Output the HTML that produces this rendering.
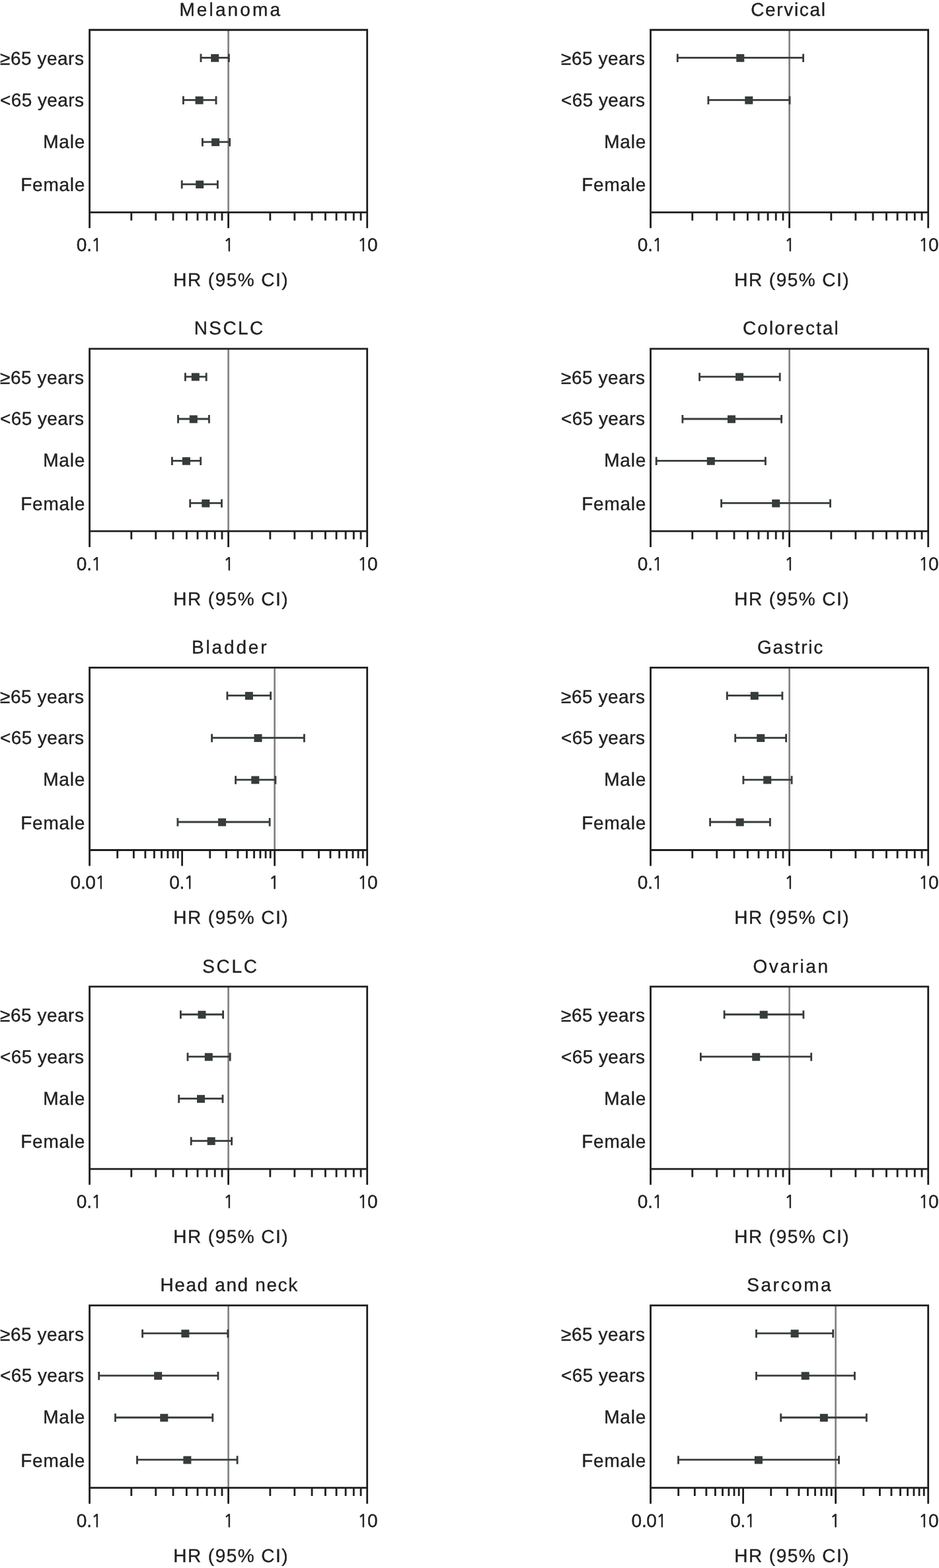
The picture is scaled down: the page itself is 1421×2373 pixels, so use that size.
<!DOCTYPE html>
<html lang="en"><head><meta charset="utf-8"><title>Forest plots</title>
<style>
html,body{margin:0;padding:0;background:#fff}
svg{display:block}
text{font-family:"Liberation Sans",sans-serif;font-size:28.0px;fill:#1f1f1f;text-rendering:geometricPrecision;font-kerning:none;stroke:#1f1f1f;stroke-width:0.35px}
.n{font-family:"NanumGothic","Liberation Sans",sans-serif;font-size:26.6px;stroke-width:0.6px;letter-spacing:-0.5px}
</style></head><body>
<svg width="1421" height="2373" viewBox="0 0 1421 2373">
<rect width="1421" height="2373" fill="#fff"/>
<g>
<line x1="345.6" y1="45.25" x2="345.6" y2="321.3" stroke="#7f7f7f" stroke-width="2.6"/>
<path d="M135.55 345.3V45.25H555.65V345.3M135.55 321.3H555.65" fill="none" stroke="#1f1f1f" stroke-width="2.8"/>
<path d="M198.78 321.3v12.4M235.77 321.3v12.4M262.01 321.3v12.4M282.37 321.3v12.4M299 321.3v12.4M313.06 321.3v12.4M325.24 321.3v12.4M335.99 321.3v12.4M408.83 321.3v12.4M445.82 321.3v12.4M472.06 321.3v12.4M492.42 321.3v12.4M509.05 321.3v12.4M523.11 321.3v12.4M535.29 321.3v12.4M546.04 321.3v12.4M345.6 321.3v24.0" fill="none" stroke="#1f1f1f" stroke-width="2.8"/>
<path d="M304 87.45H346.4M304 81.55v12.5M346.4 81.55v12.5M277.4 151.4H327M277.4 145.5v12.5M327 145.5v12.5M306.4 214.85H347.6M306.4 208.95v12.5M347.6 208.95v12.5M275.2 278.8H329.4M275.2 272.9v12.5M329.4 272.9v12.5" fill="none" stroke="#363b3b" stroke-width="2.8"/>
<rect x="319.2" y="81.95" width="12" height="11.8" fill="#363b3b"/>
<rect x="295.6" y="145.9" width="12" height="11.8" fill="#363b3b"/>
<rect x="320.1" y="209.35" width="12" height="11.8" fill="#363b3b"/>
<rect x="296.2" y="273.3" width="12" height="11.8" fill="#363b3b"/>
</g>
<g>
<line x1="1194.6" y1="45.25" x2="1194.6" y2="321.3" stroke="#7f7f7f" stroke-width="2.6"/>
<path d="M984.55 345.3V45.25H1404.65V345.3M984.55 321.3H1404.65" fill="none" stroke="#1f1f1f" stroke-width="2.8"/>
<path d="M1047.78 321.3v12.4M1084.77 321.3v12.4M1111.01 321.3v12.4M1131.37 321.3v12.4M1148 321.3v12.4M1162.06 321.3v12.4M1174.24 321.3v12.4M1184.99 321.3v12.4M1257.83 321.3v12.4M1294.82 321.3v12.4M1321.06 321.3v12.4M1341.42 321.3v12.4M1358.05 321.3v12.4M1372.11 321.3v12.4M1384.29 321.3v12.4M1395.04 321.3v12.4M1194.6 321.3v24.0" fill="none" stroke="#1f1f1f" stroke-width="2.8"/>
<path d="M1025.3 87.45H1215.6M1025.3 81.55v12.5M1215.6 81.55v12.5M1071.9 151.4H1195.1M1071.9 145.5v12.5M1195.1 145.5v12.5" fill="none" stroke="#363b3b" stroke-width="2.8"/>
<rect x="1114.3" y="81.95" width="12" height="11.8" fill="#363b3b"/>
<rect x="1127.3" y="145.9" width="12" height="11.8" fill="#363b3b"/>
</g>
<g>
<line x1="345.6" y1="527.85" x2="345.6" y2="803.9" stroke="#7f7f7f" stroke-width="2.6"/>
<path d="M135.55 827.9V527.85H555.65V827.9M135.55 803.9H555.65" fill="none" stroke="#1f1f1f" stroke-width="2.8"/>
<path d="M198.78 803.9v12.4M235.77 803.9v12.4M262.01 803.9v12.4M282.37 803.9v12.4M299 803.9v12.4M313.06 803.9v12.4M325.24 803.9v12.4M335.99 803.9v12.4M408.83 803.9v12.4M445.82 803.9v12.4M472.06 803.9v12.4M492.42 803.9v12.4M509.05 803.9v12.4M523.11 803.9v12.4M535.29 803.9v12.4M546.04 803.9v12.4M345.6 803.9v24.0" fill="none" stroke="#1f1f1f" stroke-width="2.8"/>
<path d="M280.4 570.05H312.2M280.4 564.15v12.5M312.2 564.15v12.5M269.5 634H316.4M269.5 628.1v12.5M316.4 628.1v12.5M260.4 697.45H303.7M260.4 691.55v12.5M303.7 691.55v12.5M287.7 761.4H335.5M287.7 755.5v12.5M335.5 755.5v12.5" fill="none" stroke="#363b3b" stroke-width="2.8"/>
<rect x="289.8" y="564.55" width="12" height="11.8" fill="#363b3b"/>
<rect x="286.8" y="628.5" width="12" height="11.8" fill="#363b3b"/>
<rect x="275.9" y="691.95" width="12" height="11.8" fill="#363b3b"/>
<rect x="305.3" y="755.9" width="12" height="11.8" fill="#363b3b"/>
</g>
<g>
<line x1="1194.6" y1="527.85" x2="1194.6" y2="803.9" stroke="#7f7f7f" stroke-width="2.6"/>
<path d="M984.55 827.9V527.85H1404.65V827.9M984.55 803.9H1404.65" fill="none" stroke="#1f1f1f" stroke-width="2.8"/>
<path d="M1047.78 803.9v12.4M1084.77 803.9v12.4M1111.01 803.9v12.4M1131.37 803.9v12.4M1148 803.9v12.4M1162.06 803.9v12.4M1174.24 803.9v12.4M1184.99 803.9v12.4M1257.83 803.9v12.4M1294.82 803.9v12.4M1321.06 803.9v12.4M1341.42 803.9v12.4M1358.05 803.9v12.4M1372.11 803.9v12.4M1384.29 803.9v12.4M1395.04 803.9v12.4M1194.6 803.9v24.0" fill="none" stroke="#1f1f1f" stroke-width="2.8"/>
<path d="M1058.6 570.05H1180.2M1058.6 564.15v12.5M1180.2 564.15v12.5M1032.9 634H1182.6M1032.9 628.1v12.5M1182.6 628.1v12.5M993.2 697.45H1158.4M993.2 691.55v12.5M1158.4 691.55v12.5M1091.6 761.4H1256.5M1091.6 755.5v12.5M1256.5 755.5v12.5" fill="none" stroke="#363b3b" stroke-width="2.8"/>
<rect x="1113.1" y="564.55" width="12" height="11.8" fill="#363b3b"/>
<rect x="1101" y="628.5" width="12" height="11.8" fill="#363b3b"/>
<rect x="1069.8" y="691.95" width="12" height="11.8" fill="#363b3b"/>
<rect x="1168.2" y="755.9" width="12" height="11.8" fill="#363b3b"/>
</g>
<g>
<line x1="415.62" y1="1010.45" x2="415.62" y2="1286.5" stroke="#7f7f7f" stroke-width="2.6"/>
<path d="M135.55 1310.5V1010.45H555.65V1310.5M135.55 1286.5H555.65" fill="none" stroke="#1f1f1f" stroke-width="2.8"/>
<path d="M177.7 1286.5v12.4M202.36 1286.5v12.4M219.86 1286.5v12.4M233.43 1286.5v12.4M244.52 1286.5v12.4M253.89 1286.5v12.4M262.01 1286.5v12.4M269.18 1286.5v12.4M317.74 1286.5v12.4M342.4 1286.5v12.4M359.89 1286.5v12.4M373.46 1286.5v12.4M384.55 1286.5v12.4M393.93 1286.5v12.4M402.05 1286.5v12.4M409.21 1286.5v12.4M275.58 1286.5v24.0M457.77 1286.5v12.4M482.43 1286.5v12.4M499.93 1286.5v12.4M513.5 1286.5v12.4M524.58 1286.5v12.4M533.96 1286.5v12.4M542.08 1286.5v12.4M549.24 1286.5v12.4M415.62 1286.5v24.0" fill="none" stroke="#1f1f1f" stroke-width="2.8"/>
<path d="M343.9 1052.65H409.6M343.9 1046.75v12.5M409.6 1046.75v12.5M320.6 1116.6H460.4M320.6 1110.7v12.5M460.4 1110.7v12.5M356.6 1180.05H416.9M356.6 1174.15v12.5M416.9 1174.15v12.5M268.9 1244H408.1M268.9 1238.1v12.5M408.1 1238.1v12.5" fill="none" stroke="#363b3b" stroke-width="2.8"/>
<rect x="370.9" y="1047.15" width="12" height="11.8" fill="#363b3b"/>
<rect x="384.5" y="1111.1" width="12" height="11.8" fill="#363b3b"/>
<rect x="380.3" y="1174.55" width="12" height="11.8" fill="#363b3b"/>
<rect x="330.1" y="1238.5" width="12" height="11.8" fill="#363b3b"/>
</g>
<g>
<line x1="1194.6" y1="1010.45" x2="1194.6" y2="1286.5" stroke="#7f7f7f" stroke-width="2.6"/>
<path d="M984.55 1310.5V1010.45H1404.65V1310.5M984.55 1286.5H1404.65" fill="none" stroke="#1f1f1f" stroke-width="2.8"/>
<path d="M1047.78 1286.5v12.4M1084.77 1286.5v12.4M1111.01 1286.5v12.4M1131.37 1286.5v12.4M1148 1286.5v12.4M1162.06 1286.5v12.4M1174.24 1286.5v12.4M1184.99 1286.5v12.4M1257.83 1286.5v12.4M1294.82 1286.5v12.4M1321.06 1286.5v12.4M1341.42 1286.5v12.4M1358.05 1286.5v12.4M1372.11 1286.5v12.4M1384.29 1286.5v12.4M1395.04 1286.5v12.4M1194.6 1286.5v24.0" fill="none" stroke="#1f1f1f" stroke-width="2.8"/>
<path d="M1100.3 1052.65H1183.9M1100.3 1046.75v12.5M1183.9 1046.75v12.5M1112.7 1116.6H1189.6M1112.7 1110.7v12.5M1189.6 1110.7v12.5M1124.9 1180.05H1198.1M1124.9 1174.15v12.5M1198.1 1174.15v12.5M1074.6 1244H1165.4M1074.6 1238.1v12.5M1165.4 1238.1v12.5" fill="none" stroke="#363b3b" stroke-width="2.8"/>
<rect x="1135.8" y="1047.15" width="12" height="11.8" fill="#363b3b"/>
<rect x="1145.2" y="1111.1" width="12" height="11.8" fill="#363b3b"/>
<rect x="1155.2" y="1174.55" width="12" height="11.8" fill="#363b3b"/>
<rect x="1113.7" y="1238.5" width="12" height="11.8" fill="#363b3b"/>
</g>
<g>
<line x1="345.6" y1="1493.05" x2="345.6" y2="1769.1" stroke="#7f7f7f" stroke-width="2.6"/>
<path d="M135.55 1793.1V1493.05H555.65V1793.1M135.55 1769.1H555.65" fill="none" stroke="#1f1f1f" stroke-width="2.8"/>
<path d="M198.78 1769.1v12.4M235.77 1769.1v12.4M262.01 1769.1v12.4M282.37 1769.1v12.4M299 1769.1v12.4M313.06 1769.1v12.4M325.24 1769.1v12.4M335.99 1769.1v12.4M408.83 1769.1v12.4M445.82 1769.1v12.4M472.06 1769.1v12.4M492.42 1769.1v12.4M509.05 1769.1v12.4M523.11 1769.1v12.4M535.29 1769.1v12.4M546.04 1769.1v12.4M345.6 1769.1v24.0" fill="none" stroke="#1f1f1f" stroke-width="2.8"/>
<path d="M273.4 1535.25H337.6M273.4 1529.35v12.5M337.6 1529.35v12.5M284 1599.2H348.2M284 1593.3v12.5M348.2 1593.3v12.5M270.7 1662.65H337M270.7 1656.75v12.5M337 1656.75v12.5M289.2 1726.6H350.6M289.2 1720.7v12.5M350.6 1720.7v12.5" fill="none" stroke="#363b3b" stroke-width="2.8"/>
<rect x="299.5" y="1529.75" width="12" height="11.8" fill="#363b3b"/>
<rect x="309.8" y="1593.7" width="12" height="11.8" fill="#363b3b"/>
<rect x="298" y="1657.15" width="12" height="11.8" fill="#363b3b"/>
<rect x="313.7" y="1721.1" width="12" height="11.8" fill="#363b3b"/>
</g>
<g>
<line x1="1194.6" y1="1493.05" x2="1194.6" y2="1769.1" stroke="#7f7f7f" stroke-width="2.6"/>
<path d="M984.55 1793.1V1493.05H1404.65V1793.1M984.55 1769.1H1404.65" fill="none" stroke="#1f1f1f" stroke-width="2.8"/>
<path d="M1047.78 1769.1v12.4M1084.77 1769.1v12.4M1111.01 1769.1v12.4M1131.37 1769.1v12.4M1148 1769.1v12.4M1162.06 1769.1v12.4M1174.24 1769.1v12.4M1184.99 1769.1v12.4M1257.83 1769.1v12.4M1294.82 1769.1v12.4M1321.06 1769.1v12.4M1341.42 1769.1v12.4M1358.05 1769.1v12.4M1372.11 1769.1v12.4M1384.29 1769.1v12.4M1395.04 1769.1v12.4M1194.6 1769.1v24.0" fill="none" stroke="#1f1f1f" stroke-width="2.8"/>
<path d="M1096.1 1535.25H1215.9M1096.1 1529.35v12.5M1215.9 1529.35v12.5M1060.4 1599.2H1227.7M1060.4 1593.3v12.5M1227.7 1593.3v12.5" fill="none" stroke="#363b3b" stroke-width="2.8"/>
<rect x="1149.7" y="1529.75" width="12" height="11.8" fill="#363b3b"/>
<rect x="1138.2" y="1593.7" width="12" height="11.8" fill="#363b3b"/>
</g>
<g>
<line x1="345.6" y1="1975.65" x2="345.6" y2="2251.7" stroke="#7f7f7f" stroke-width="2.6"/>
<path d="M135.55 2275.7V1975.65H555.65V2275.7M135.55 2251.7H555.65" fill="none" stroke="#1f1f1f" stroke-width="2.8"/>
<path d="M198.78 2251.7v12.4M235.77 2251.7v12.4M262.01 2251.7v12.4M282.37 2251.7v12.4M299 2251.7v12.4M313.06 2251.7v12.4M325.24 2251.7v12.4M335.99 2251.7v12.4M408.83 2251.7v12.4M445.82 2251.7v12.4M472.06 2251.7v12.4M492.42 2251.7v12.4M509.05 2251.7v12.4M523.11 2251.7v12.4M535.29 2251.7v12.4M546.04 2251.7v12.4M345.6 2251.7v24.0" fill="none" stroke="#1f1f1f" stroke-width="2.8"/>
<path d="M215.6 2017.85H344.8M215.6 2011.95v12.5M344.8 2011.95v12.5M149.7 2081.8H330M149.7 2075.9v12.5M330 2075.9v12.5M174.5 2145.25H321.8M174.5 2139.35v12.5M321.8 2139.35v12.5M207.5 2209.2H359.1M207.5 2203.3v12.5M359.1 2203.3v12.5" fill="none" stroke="#363b3b" stroke-width="2.8"/>
<rect x="274.4" y="2012.35" width="12" height="11.8" fill="#363b3b"/>
<rect x="233.2" y="2076.3" width="12" height="11.8" fill="#363b3b"/>
<rect x="242.3" y="2139.75" width="12" height="11.8" fill="#363b3b"/>
<rect x="277.4" y="2203.7" width="12" height="11.8" fill="#363b3b"/>
</g>
<g>
<line x1="1264.62" y1="1975.65" x2="1264.62" y2="2251.7" stroke="#7f7f7f" stroke-width="2.6"/>
<path d="M984.55 2275.7V1975.65H1404.65V2275.7M984.55 2251.7H1404.65" fill="none" stroke="#1f1f1f" stroke-width="2.8"/>
<path d="M1026.7 2251.7v12.4M1051.36 2251.7v12.4M1068.86 2251.7v12.4M1082.43 2251.7v12.4M1093.52 2251.7v12.4M1102.89 2251.7v12.4M1111.01 2251.7v12.4M1118.18 2251.7v12.4M1166.74 2251.7v12.4M1191.4 2251.7v12.4M1208.89 2251.7v12.4M1222.46 2251.7v12.4M1233.55 2251.7v12.4M1242.93 2251.7v12.4M1251.05 2251.7v12.4M1258.21 2251.7v12.4M1124.58 2251.7v24.0M1306.77 2251.7v12.4M1331.43 2251.7v12.4M1348.93 2251.7v12.4M1362.5 2251.7v12.4M1373.58 2251.7v12.4M1382.96 2251.7v12.4M1391.08 2251.7v12.4M1398.24 2251.7v12.4M1264.62 2251.7v24.0" fill="none" stroke="#1f1f1f" stroke-width="2.8"/>
<path d="M1144.5 2017.85H1260.7M1144.5 2011.95v12.5M1260.7 2011.95v12.5M1144.5 2081.8H1293.4M1144.5 2075.9v12.5M1293.4 2075.9v12.5M1181.7 2145.25H1311.3M1181.7 2139.35v12.5M1311.3 2139.35v12.5M1026.5 2209.2H1269.5M1026.5 2203.3v12.5M1269.5 2203.3v12.5" fill="none" stroke="#363b3b" stroke-width="2.8"/>
<rect x="1196.6" y="2012.35" width="12" height="11.8" fill="#363b3b"/>
<rect x="1212.7" y="2076.3" width="12" height="11.8" fill="#363b3b"/>
<rect x="1240.8" y="2139.75" width="12" height="11.8" fill="#363b3b"/>
<rect x="1141.9" y="2203.7" width="12" height="11.8" fill="#363b3b"/>
</g>
<g class="tx">
<text x="271.4" y="23.75" style="letter-spacing:3.13px">Melanoma</text>
<text x="0.11" y="98.3" style="letter-spacing:0.51px">≥65 years</text>
<text x="0.12" y="160.7" style="letter-spacing:0.38px">&lt;65 years</text>
<text x="65.2" y="223.8" style="letter-spacing:0.82px">Male</text>
<text x="31.2" y="289.4" style="letter-spacing:0.76px">Female</text>
<text x="115.86" y="380.1" style="letter-spacing:-0.3px">0.<tspan class="n" dx="-0.7">1</tspan></text>
<text x="337.28" y="380.1"><tspan class="n" dx="0.8">1</tspan></text>
<text x="540.78" y="380.1"><tspan class="n" dx="0.15" style="letter-spacing:-1px">1</tspan>0</text>
<text x="262.3" y="433.2" style="letter-spacing:1.45px">HR (95% CI)</text>
<text x="1136.18" y="23.75" style="letter-spacing:1.67px">Cervical</text>
<text x="849.11" y="98.3" style="letter-spacing:0.51px">≥65 years</text>
<text x="849.12" y="160.7" style="letter-spacing:0.38px">&lt;65 years</text>
<text x="914.2" y="223.8" style="letter-spacing:0.82px">Male</text>
<text x="880.2" y="289.4" style="letter-spacing:0.76px">Female</text>
<text x="964.86" y="380.1" style="letter-spacing:-0.3px">0.<tspan class="n" dx="-0.7">1</tspan></text>
<text x="1186.28" y="380.1"><tspan class="n" dx="0.8">1</tspan></text>
<text x="1389.78" y="380.1"><tspan class="n" dx="0.15" style="letter-spacing:-1px">1</tspan>0</text>
<text x="1111.3" y="433.2" style="letter-spacing:1.45px">HR (95% CI)</text>
<text x="293.7" y="506.4" style="letter-spacing:2.41px">NSCLC</text>
<text x="0.11" y="580.9" style="letter-spacing:0.51px">≥65 years</text>
<text x="0.12" y="643.3" style="letter-spacing:0.38px">&lt;65 years</text>
<text x="65.2" y="706.4" style="letter-spacing:0.82px">Male</text>
<text x="31.2" y="772" style="letter-spacing:0.76px">Female</text>
<text x="115.86" y="862.7" style="letter-spacing:-0.3px">0.<tspan class="n" dx="-0.7">1</tspan></text>
<text x="337.28" y="862.7"><tspan class="n" dx="0.8">1</tspan></text>
<text x="540.78" y="862.7"><tspan class="n" dx="0.15" style="letter-spacing:-1px">1</tspan>0</text>
<text x="262.3" y="915.8" style="letter-spacing:1.45px">HR (95% CI)</text>
<text x="1124.08" y="506.4" style="letter-spacing:2.06px">Colorectal</text>
<text x="849.11" y="580.9" style="letter-spacing:0.51px">≥65 years</text>
<text x="849.12" y="643.3" style="letter-spacing:0.38px">&lt;65 years</text>
<text x="914.2" y="706.4" style="letter-spacing:0.82px">Male</text>
<text x="880.2" y="772" style="letter-spacing:0.76px">Female</text>
<text x="964.86" y="862.7" style="letter-spacing:-0.3px">0.<tspan class="n" dx="-0.7">1</tspan></text>
<text x="1186.28" y="862.7"><tspan class="n" dx="0.8">1</tspan></text>
<text x="1389.78" y="862.7"><tspan class="n" dx="0.15" style="letter-spacing:-1px">1</tspan>0</text>
<text x="1111.3" y="915.8" style="letter-spacing:1.45px">HR (95% CI)</text>
<text x="290" y="989.05" style="letter-spacing:2.84px">Bladder</text>
<text x="0.11" y="1063.5" style="letter-spacing:0.51px">≥65 years</text>
<text x="0.12" y="1125.9" style="letter-spacing:0.38px">&lt;65 years</text>
<text x="65.2" y="1189" style="letter-spacing:0.82px">Male</text>
<text x="31.2" y="1254.6" style="letter-spacing:0.76px">Female</text>
<text x="106.61" y="1345.3" style="letter-spacing:-0.3px">0.0<tspan class="n" dx="-0.7">1</tspan></text>
<text x="256.26" y="1345.3" style="letter-spacing:-0.3px">0.<tspan class="n" dx="-0.7">1</tspan></text>
<text x="405.88" y="1345.3"><tspan class="n" dx="0.8">1</tspan></text>
<text x="540.78" y="1345.3"><tspan class="n" dx="0.15" style="letter-spacing:-1px">1</tspan>0</text>
<text x="262.3" y="1398.4" style="letter-spacing:1.45px">HR (95% CI)</text>
<text x="1145.99" y="989.05" style="letter-spacing:1.76px">Gastric</text>
<text x="849.11" y="1063.5" style="letter-spacing:0.51px">≥65 years</text>
<text x="849.12" y="1125.9" style="letter-spacing:0.38px">&lt;65 years</text>
<text x="914.2" y="1189" style="letter-spacing:0.82px">Male</text>
<text x="880.2" y="1254.6" style="letter-spacing:0.76px">Female</text>
<text x="964.86" y="1345.3" style="letter-spacing:-0.3px">0.<tspan class="n" dx="-0.7">1</tspan></text>
<text x="1186.28" y="1345.3"><tspan class="n" dx="0.8">1</tspan></text>
<text x="1389.78" y="1345.3"><tspan class="n" dx="0.15" style="letter-spacing:-1px">1</tspan>0</text>
<text x="1111.3" y="1398.4" style="letter-spacing:1.45px">HR (95% CI)</text>
<text x="306.23" y="1471.7" style="letter-spacing:2.68px">SCLC</text>
<text x="0.11" y="1546.1" style="letter-spacing:0.51px">≥65 years</text>
<text x="0.12" y="1608.5" style="letter-spacing:0.38px">&lt;65 years</text>
<text x="65.2" y="1671.6" style="letter-spacing:0.82px">Male</text>
<text x="31.2" y="1737.2" style="letter-spacing:0.76px">Female</text>
<text x="115.86" y="1827.9" style="letter-spacing:-0.3px">0.<tspan class="n" dx="-0.7">1</tspan></text>
<text x="337.28" y="1827.9"><tspan class="n" dx="0.8">1</tspan></text>
<text x="540.78" y="1827.9"><tspan class="n" dx="0.15" style="letter-spacing:-1px">1</tspan>0</text>
<text x="262.3" y="1881" style="letter-spacing:1.45px">HR (95% CI)</text>
<text x="1139.47" y="1471.7" style="letter-spacing:2.58px">Ovarian</text>
<text x="849.11" y="1546.1" style="letter-spacing:0.51px">≥65 years</text>
<text x="849.12" y="1608.5" style="letter-spacing:0.38px">&lt;65 years</text>
<text x="914.2" y="1671.6" style="letter-spacing:0.82px">Male</text>
<text x="880.2" y="1737.2" style="letter-spacing:0.76px">Female</text>
<text x="964.86" y="1827.9" style="letter-spacing:-0.3px">0.<tspan class="n" dx="-0.7">1</tspan></text>
<text x="1186.28" y="1827.9"><tspan class="n" dx="0.8">1</tspan></text>
<text x="1389.78" y="1827.9"><tspan class="n" dx="0.15" style="letter-spacing:-1px">1</tspan>0</text>
<text x="1111.3" y="1881" style="letter-spacing:1.45px">HR (95% CI)</text>
<text x="242.4" y="1954.35" style="letter-spacing:1.62px">Head and neck</text>
<text x="0.11" y="2028.7" style="letter-spacing:0.51px">≥65 years</text>
<text x="0.12" y="2091.1" style="letter-spacing:0.38px">&lt;65 years</text>
<text x="65.2" y="2154.2" style="letter-spacing:0.82px">Male</text>
<text x="31.2" y="2219.8" style="letter-spacing:0.76px">Female</text>
<text x="115.86" y="2310.5" style="letter-spacing:-0.3px">0.<tspan class="n" dx="-0.7">1</tspan></text>
<text x="337.28" y="2310.5"><tspan class="n" dx="0.8">1</tspan></text>
<text x="540.78" y="2310.5"><tspan class="n" dx="0.15" style="letter-spacing:-1px">1</tspan>0</text>
<text x="262.3" y="2363.6" style="letter-spacing:1.45px">HR (95% CI)</text>
<text x="1130.23" y="1954.35" style="letter-spacing:2.56px">Sarcoma</text>
<text x="849.11" y="2028.7" style="letter-spacing:0.51px">≥65 years</text>
<text x="849.12" y="2091.1" style="letter-spacing:0.38px">&lt;65 years</text>
<text x="914.2" y="2154.2" style="letter-spacing:0.82px">Male</text>
<text x="880.2" y="2219.8" style="letter-spacing:0.76px">Female</text>
<text x="955.61" y="2310.5" style="letter-spacing:-0.3px">0.0<tspan class="n" dx="-0.7">1</tspan></text>
<text x="1105.26" y="2310.5" style="letter-spacing:-0.3px">0.<tspan class="n" dx="-0.7">1</tspan></text>
<text x="1254.88" y="2310.5"><tspan class="n" dx="0.8">1</tspan></text>
<text x="1389.78" y="2310.5"><tspan class="n" dx="0.15" style="letter-spacing:-1px">1</tspan>0</text>
<text x="1111.3" y="2363.6" style="letter-spacing:1.45px">HR (95% CI)</text>
</g>
</svg>
</body></html>
